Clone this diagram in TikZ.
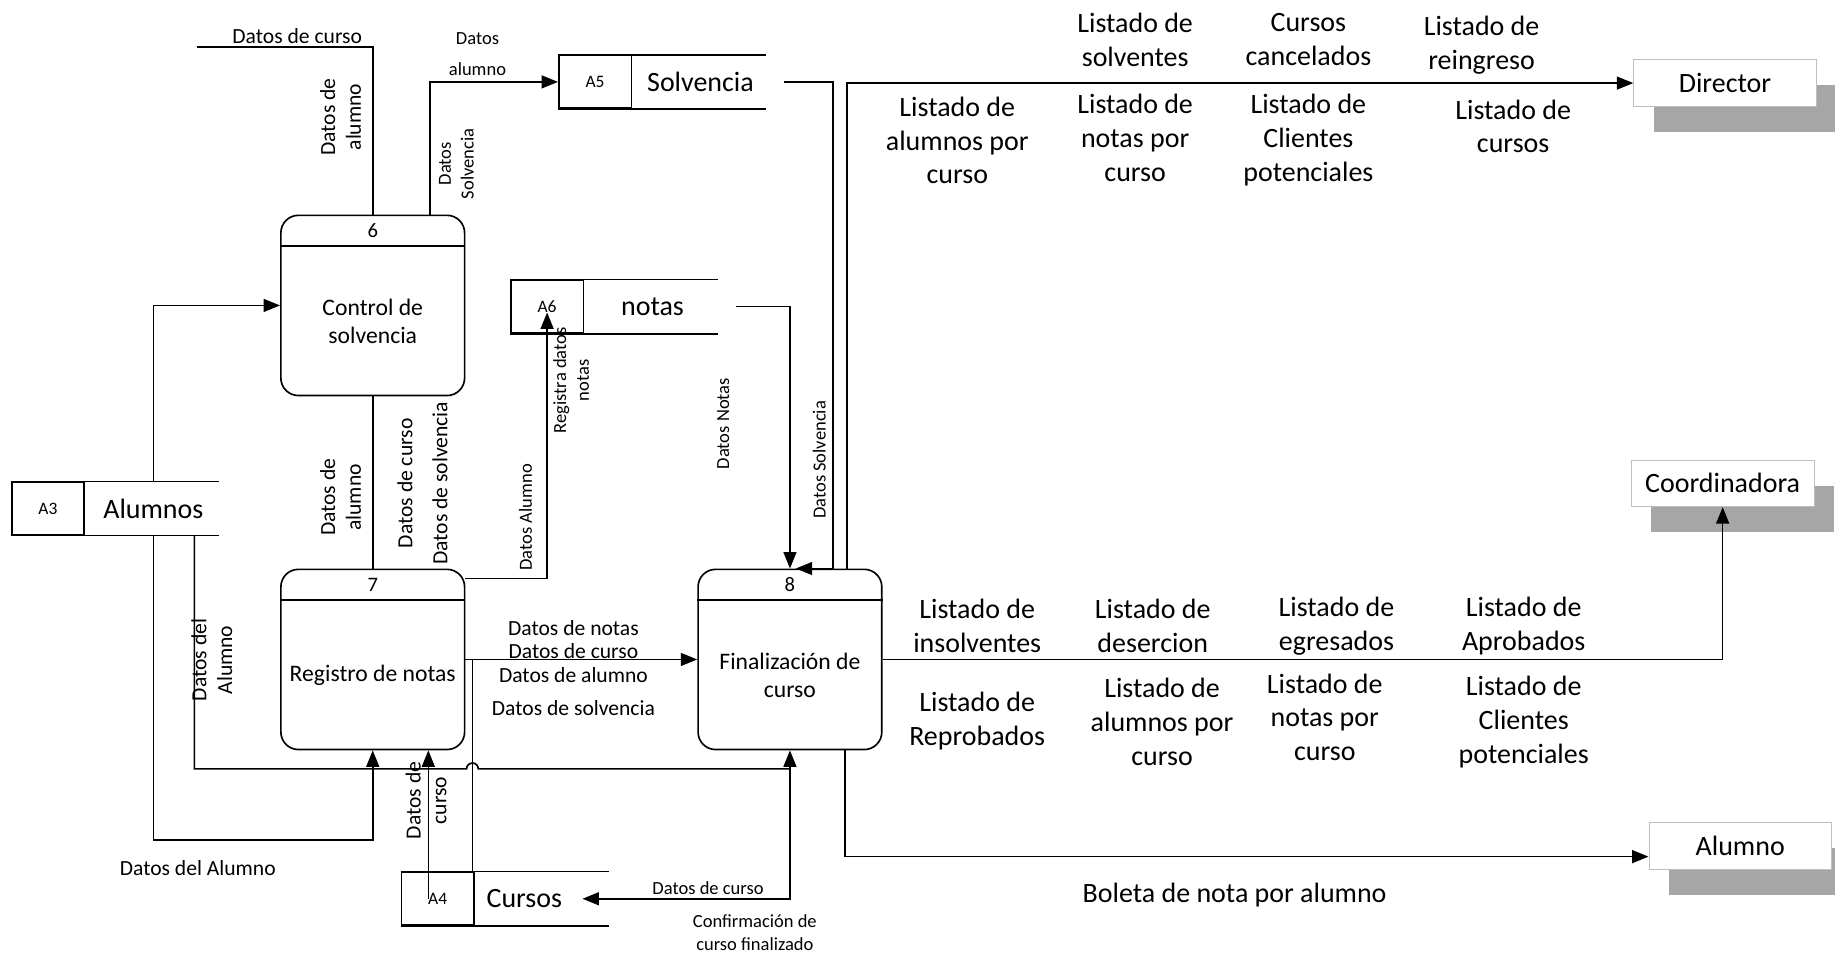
\documentclass[tikz,border=0pt]{standalone}
\usepackage{fontspec}
\setmainfont{Carlito}
\usetikzlibrary{arrows.meta, positioning, shadows}

\tikzset{
  wire/.style={line width=0.8pt},
  flow/.style={wire, -{Triangle[length=2.8mm, width=2.2mm]}},
  flowboth/.style={wire, {Triangle[length=2.8mm, width=2.2mm]}-{Triangle[length=2.8mm, width=2.2mm]}},
  lblbig/.style={font=\fontsize{13.6}{16.5}\selectfont, align=center, inner sep=0pt},
  lblsmall/.style={font=\fontsize{10.5}{12.5}\selectfont, align=center, inner sep=0pt},
  lbltiny/.style={font=\fontsize{9}{11}\selectfont, align=center, inner sep=0pt},
  storeid/.style={draw, wire, minimum width=12.4mm, minimum height=9mm, inner sep=0pt, font=\fontsize{8.5}{10}\selectfont},
  storetxt/.style={minimum width=23.2mm, minimum height=9mm, inner sep=0pt, font=\fontsize{13.6}{16.5}\selectfont},
  proc/.style={draw, wire, rounded corners=3mm, minimum width=31.4mm, minimum height=30.8mm},
  procnum/.style={font=\fontsize{10}{12}\selectfont, inner sep=0pt},
  proctxt/.style={font=\fontsize{11.5}{13.8}\selectfont, align=center, inner sep=0pt},
  entity/.style={draw=black!25, fill=white, minimum width=31.2mm, minimum height=8mm, font=\fontsize{13.6}{16.5}\selectfont,
    drop shadow={shadow xshift=3.4mm, shadow yshift=-4.4mm, fill=black!35, opacity=1}}
}

% name, x, y, id, label (optional: shift of the label)
\newcommand{\datastore}[6][0mm]{%
  \node (#2id) [storeid] at (#3,#4) {#5};
  \node (#2) [storetxt, right=0pt of #2id, xshift=#1] {#6};
  \draw[wire] (#2id.north west) -- ++(178,0) (#2id.south west) -- ++(178,0);
}
% name, x, y, number, label
\newcommand{\procbox}[5]{%
  \node (#1) [proc] at (#2,#3) {};
  \draw[wire] ([yshift=-5.4mm]#1.north west) -- ([yshift=-5.4mm]#1.north east);
  \node (#1num) [procnum] at ([yshift=-2.8mm]#1.north) {#4};
  \node (#1txt) [proctxt] at ([yshift=-2.7mm]#1.center) {#5};
}

\begin{document}
\begin{tikzpicture}[x=0.2mm, y=-0.2mm]
\useasboundingbox (0,0) rectangle (1568,817);
%
\procbox{p6}{318.5}{261}{6}{Control de\\solvencia}
\procbox{p7}{318.5}{563.5}{7}{Registro de notas}
\procbox{p8}{675}{563.5}{8}{Finalización de\\curso}
%
\datastore{a3}{41}{434.5}{A3}{Alumnos}
\datastore{a5}{508.5}{70}{A5}{Solvencia}
\datastore{a6}{467.5}{262}{A6}{notas}
\datastore[-3.2mm]{a4}{374}{768}{A4}{Cursos}
%
\node (dir) [entity] at (1474,71) {Director};
\node (coo) [entity] at (1472,413) {Coordinadora};
\node (alu) [entity] at (1487,723) {Alumno};
%
\coordinate (cursofree) at (168,40);
\coordinate (rail1) at (0,657);
\coordinate (rail2) at (0,718);
\coordinate (p6r) at ([xshift=9.8mm]p6.north);
\coordinate (p7r) at ([yshift=-1.7mm]p7.north east);
\coordinate (j7) at ([xshift=1.2mm]p7.east);
\coordinate (hop) at (j7 |- rail1);
\coordinate (a3r) at ([xshift=7mm]a3.south);
\coordinate (a4in) at ([xshift=-1.6mm]a4id.center);
\coordinate (a4tip) at ([xshift=18.4mm]a4id.east);
\coordinate (a5out) at ([xshift=2.6mm]a5.east);
\coordinate (a6out) at ([xshift=2.6mm]a6.east);
\coordinate (a6in) at ([yshift=-1mm]a6id.center);
\coordinate (p8sol) at ([xshift=7.4mm]p8.north);
\coordinate (p8tip) at ([xshift=1mm]p8.north);
\coordinate (p8dir) at ([xshift=9.8mm]p8.north);
\coordinate (p8alu) at ([xshift=9.4mm]p8.south);
\coordinate (aluin) at ([yshift=-1.8mm]alu.west);
%
\draw[wire] (cursofree) -| (p6.north);
\draw[flow] (p6r) |- (a5id.west);
\draw[flow] (a3.north) |- (p6.west);
\draw[wire] (p6.south) -- (p7.north);
\draw[flow] (p7r) -| (a6in);
\draw[flow] (a6out) -| (p8.north);
\draw[flow] (a5out) -| (p8sol) -- (p8tip);
\draw[flow] (p8dir) |- (dir.west);
\draw[flow] (p7.east) -- (p8.west);
\draw[wire] (j7) -- (j7 |- a4id.north);
\draw[wire] (a3r) |- ([xshift=-1mm]hop) arc[start angle=180, end angle=0, radius=1mm] -- (p8.south |- rail1);
\draw[flow] (a3.south) -- (a3.south |- rail2) -| (p7.south);
\draw[flow] (a4in) -- (a4in |- p7.south);
\draw[flowboth] (a4tip) -| (p8.south);
\draw[flow] (p8alu) |- (aluin);
\draw[flow] (p8.east) -| (coo.south);
%
\node (lcurso6) [lblsmall] at (254,31) {Datos de curso};
\node (lalu6) [lblsmall, rotate=90] at (291,100) {Datos de\\alumno};
\node (lalu5) [lbltiny] at (408,46) {Datos\\[4pt]alumno};
\node (lsolv5) [lbltiny, rotate=90] at (390,140) {Datos\\Solvencia};
\node (lalu67) [lblsmall, rotate=90] at (291,425) {Datos de\\alumno};
\node (lcurso67) [lblsmall, rotate=90] at (346,413) {Datos de curso};
\node (lsolv67) [lblsmall, rotate=90] at (376,413) {Datos de solvencia};
\node (lalu76) [lbltiny, rotate=90] at (449,442) {Datos Alumno};
\node (lreg) [lbltiny, rotate=90] at (488,325) {Registra datos\\notas};
\node (lnotas) [lbltiny, rotate=90] at (618,362) {Datos Notas};
\node (lsolv8) [lbltiny, rotate=90] at (700,393) {Datos Solvencia};
\node (lalu3) [lblsmall, rotate=90] at (181,564) {Datos del\\Alumno};
\node (lalu37) [lblsmall] at (169,742) {Datos del Alumno};
\node (lcurso4) [lblsmall, rotate=90] at (364,684) {Datos de\\curso};
\node (lcurso48) [lbltiny] at (605,759) {Datos de curso};
\node (lconf) [lbltiny] at (645,797) {Confirmación de\\curso finalizado};
\node (lboleta) [lblbig] at (1055,765) {Boleta de nota por alumno};
%
\foreach \txt/\y [count=\i] in {Datos de notas/537, Datos de curso/556, Datos de alumno/577, Datos de solvencia/605}
  \node (l78\i) [lblsmall] at (490,\y) {\txt};
%
\foreach \txt/\x/\y [count=\i] in {
  {Listado de\\solventes}/970/34,
  {Cursos\\cancelados}/1118/34,
  {Listado de\\reingreso}/1266/39,
  {Listado de\\alumnos por\\curso}/818/120,
  {Listado de\\notas por\\curso}/970/118,
  {Listado de\\Clientes\\potenciales}/1118/120,
  {Listado de\\cursos}/1293/108}
  \node (ldir\i) [lblbig] at (\x,\y) {\txt};
%
\foreach \txt/\x/\y [count=\i] in {
  {Listado de\\insolventes}/835/535,
  {Listado de\\desercion}/985/535,
  {Listado de\\egresados}/1142/535,
  {Listado de\\Aprobados}/1302/535,
  {Listado de\\Reprobados}/835/616,
  {Listado de\\alumnos por\\curso}/993/617,
  {Listado de\\notas por\\curso}/1132/613,
  {Listado de\\Clientes\\potenciales}/1302/617}
  \node (lcoo\i) [lblbig] at (\x,\y) {\txt};
\end{tikzpicture}
\end{document}
